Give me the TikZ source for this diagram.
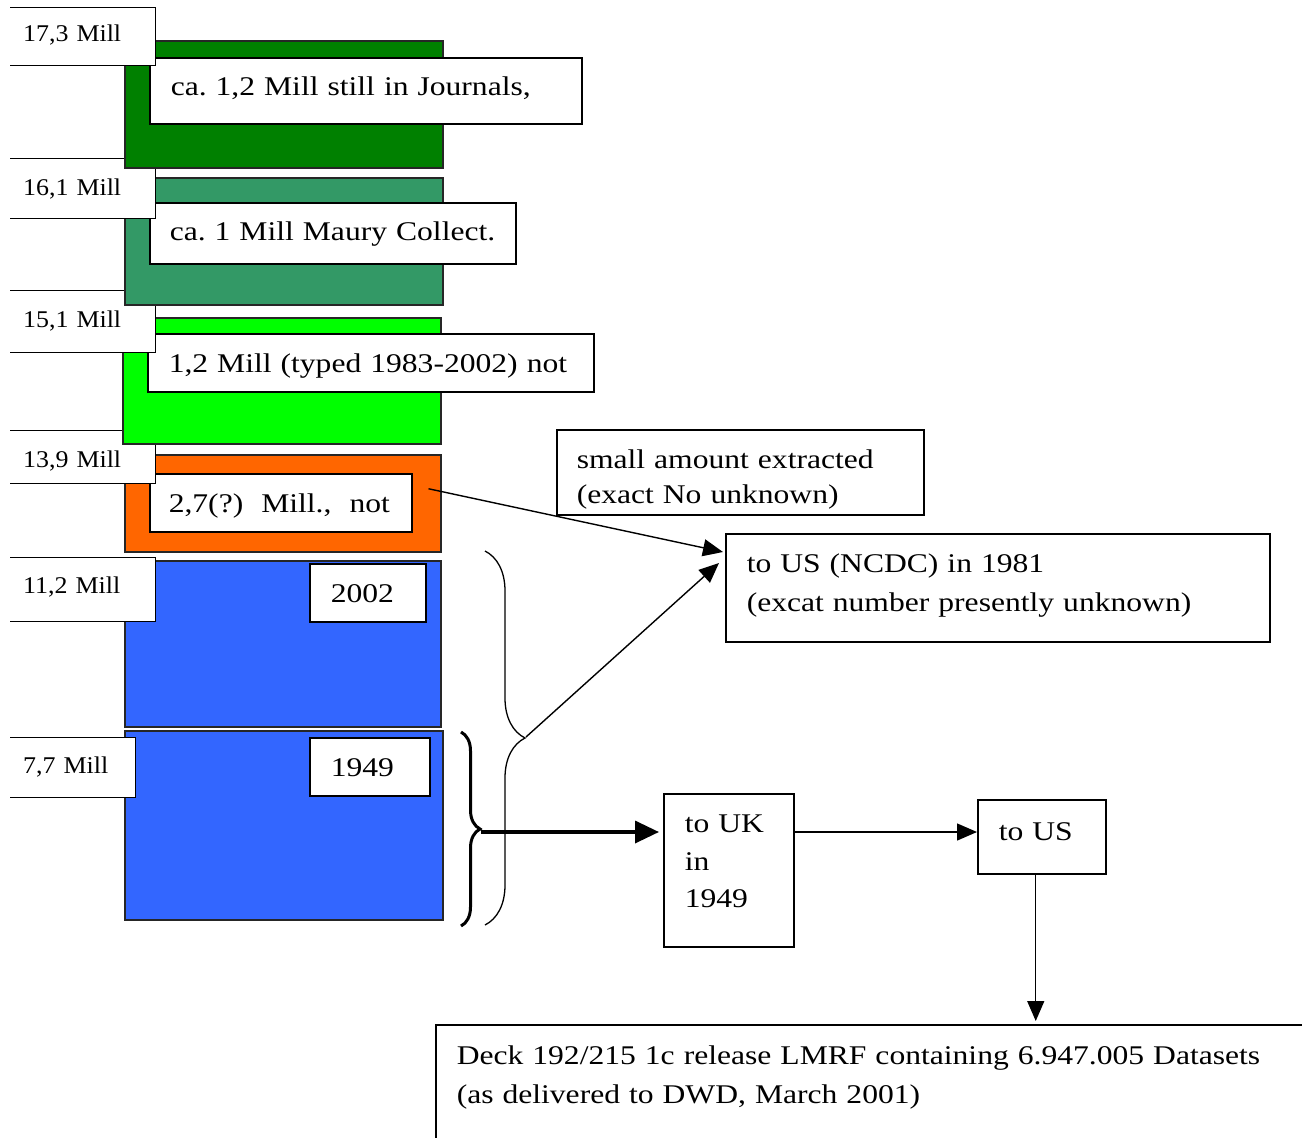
\documentclass[tikz,border=0pt]{standalone}
\usepackage{fontspec}
\setmainfont{Liberation Serif}[FakeStretch=1.17]
\newfontfamily\labfam{Liberation Serif}[FakeStretch=1.08]
\usepackage{tikz}
\usetikzlibrary{calc, positioning, arrows.meta, decorations.pathreplacing}

\definecolor{darkbar}{RGB}{0,128,0}
\definecolor{seabar}{RGB}{51,153,102}
\definecolor{limebar}{RGB}{0,255,0}
\definecolor{orangebar}{RGB}{255,102,0}
\definecolor{bluebar}{RGB}{51,102,255}

\newcommand{\bigtxt}{\fontsize{27}{39}\selectfont}
\newcommand{\labtxt}{\labfam\fontsize{24}{28}\selectfont}
\frenchspacing
\hyphenpenalty=10000
\exhyphenpenalty=10000

\tikzset{
  bar/.style={draw=black!85, line width=2pt},
  millbox/.style={fill=white, anchor=north west, inner xsep=13pt, inner ysep=0pt, font=\labtxt, text width=#1},
  txtbox/.style={draw, fill=white, line width=1.5pt, anchor=north west, inner xsep=21pt, inner ysep=0pt, font=\bigtxt, align=left},
  flow/.style={-{Triangle[length=20pt,width=17pt]}, line width=1.4pt},
}

\begin{document}
\begin{tikzpicture}[x=1pt, y=-1pt]
    \useasboundingbox (0,0) rectangle (1302,1138);
    % 7,7 Mill
    \draw[bar, fill=bluebar] (125,731) rectangle (443,920);
    \node[txtbox, text width=78pt, text height=39pt, text depth=19pt] (yr1949) at (309,737) {1949};
    \node[millbox=99pt, text height=36pt, text depth=24pt] (m77) at (10,737) {7,7 Mill};
    \draw (m77.north west) -- (m77.north east) -- (m77.south east) -- (m77.south west);
    % 11,2 Mill
    \draw[bar, fill=bluebar] (125,561) rectangle (441,727);
    \node[txtbox, text width=74pt, text height=39pt, text depth=19pt] (yr2002) at (309,563) {2002};
    \node[millbox=119pt, text height=36pt, text depth=28pt] (m112) at (10,557) {11,2 Mill};
    \draw (m112.north west) -- (m112.north east) -- (m112.south east) -- (m112.south west);
    % 13,9 Mill
    \draw[bar, fill=orangebar] (125,455) rectangle (441,552);
    \node[txtbox, inner xsep=19pt, text width=224pt, text height=39pt, text depth=19pt] (twoseven) at (149,473) {2,7(?)~ Mill.,~ not};
    \node[millbox=119pt, text height=37pt, text depth=16pt] (m139) at (10,430) {13,9 Mill};
    \draw (m139.north west) -- (m139.north east) -- (m139.south east) -- (m139.south west);
    % 15,1 Mill
    \draw[bar, fill=limebar] (123,318) rectangle (441,444);
    \node[txtbox, text width=404pt, text height=39pt, text depth=19pt] (typed) at (147,333) {1,2 Mill (typed 1983-2002) not};
    \node[millbox=119pt, text height=37pt, text depth=25pt] (m151) at (10,290) {15,1 Mill};
    \draw (m151.north west) -- (m151.north east) -- (m151.south east) -- (m151.south west);
    % 16,1 Mill
    \draw[bar, fill=seabar] (125,178) rectangle (443,305);
    \node[txtbox, inner xsep=20pt, text width=326pt, text height=38pt, text depth=23pt] (maury) at (149,202) {ca. 1 Mill Maury Collect.};
    \node[millbox=119pt, text height=37pt, text depth=23pt] (m161) at (10,158) {16,1 Mill};
    \draw (m161.north west) -- (m161.north east) -- (m161.south east) -- (m161.south west);
    % 17,3 Mill
    \draw[bar, fill=darkbar] (125,41) rectangle (443,168);
    \node[txtbox, text width=390pt, text height=38pt, text depth=28pt] (journals) at (149,57) {ca. 1,2 Mill still in Journals,};
    \node[millbox=119pt, text height=34pt, text depth=24pt] (m173) at (10,7) {17,3 Mill};
    \draw (m173.north west) -- (m173.north east) -- (m173.south east) -- (m173.south west);

    % where the records went
    \node[txtbox, inner xsep=20pt, text width=327pt, text height=39pt, text depth=46pt, font=\fontsize{27}{35}\selectfont] (smallamt) at (556,429) {small amount extracted\\(exact No unknown)};
    \node[txtbox, text width=502pt, text height=39pt, text depth=69pt] (ncdc) at (725,533) {to US (NCDC) in 1981\\(excat number presently unknown)};
    \node[txtbox, text width=88pt, text height=39pt, text depth=114pt, font=\fontsize{27}{37.5}\selectfont] (uk) at (663,793) {to UK\\in\\1949};
    \node[txtbox, text width=86pt, text height=41pt, text depth=33pt] (us) at (977,799) {to US};
    \node[txtbox, text width=858pt, text height=40pt, text depth=200pt] (deck) at (435,1024) {Deck 192/215 1c release LMRF containing 6.947.005 Datasets\\(as delivered to DWD, March 2001)};

    % braces
    \draw[line width=3pt, decorate, decoration={brace, amplitude=19pt}] (461,732) -- (461,926);
    \draw[line width=1.3pt, decorate, decoration={brace, amplitude=40pt}] (485,551) -- (485,925);
    \coordinate (smalltip) at (481,832);
    \coordinate (bigtip) at (526,737);
    \coordinate (usfoot) at ($(us.south)+(-6,0)$);

    \draw[flow] ($(twoseven.east)+(16,-14)$) -- ($(ncdc.north west)+(-2,19)$);
    \draw[flow] (bigtip) -- ($(ncdc.north west)+(-6,30)$);
    \draw[line width=3.5pt, -{Triangle[length=24pt,width=22pt]}, shorten >=4pt] (smalltip) -- (uk.west |- smalltip);
    \draw[flow] (uk.east |- smalltip) -- (us.west |- smalltip);
    \draw[flow, shorten >=3pt] (usfoot) -- (usfoot |- deck.north);
\end{tikzpicture}
\end{document}
